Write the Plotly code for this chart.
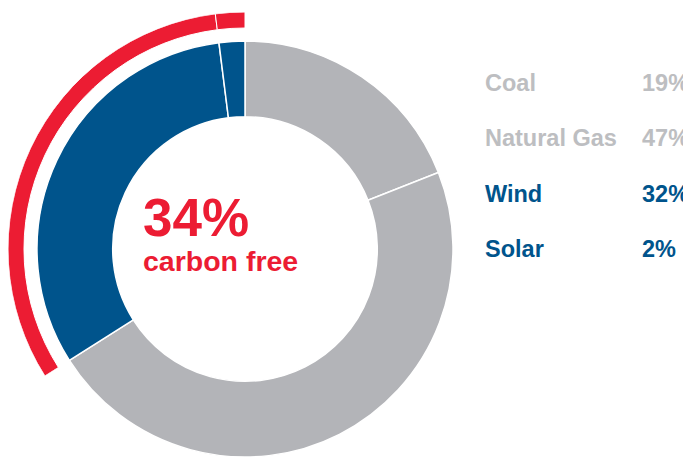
import math
import plotly.graph_objects as go

# ---- data ----
sources = ["Coal", "Natural Gas", "Wind", "Solar"]
shares = [19, 47, 32, 2]
carbon_free = [False, False, True, True]
center_label = "carbon free"

# ---- style ----
PAGE_OFF = 8                      # default body margin of the html page
W, H = 691 - PAGE_OFF, 458 - PAGE_OFF
GRAY = "#b3b4b8"
GRAY_TEXT = "#bdbec1"
BLUE = "#00548c"
RED = "#ec1c33"
FONT = "Liberation Sans, Arial, sans-serif"

slice_colors = [BLUE if cf else GRAY for cf in carbon_free]
text_colors = [BLUE if cf else GRAY_TEXT for cf in carbon_free]

# geometry in screen pixels
CX, CY = 245, 249
R_DONUT = 208
HOLE = 0.636
R_RING_OUT = 237
R_RING_IN = 221


def px_x(x):
    return min(1, max(0, (x - PAGE_OFF) / W))


def px_y(y):
    return min(1, max(0, 1 - (y - PAGE_OFF) / H))


fig = go.Figure()

# main donut
fig.add_trace(go.Pie(
    labels=sources,
    values=shares,
    sort=False,
    direction="clockwise",
    rotation=0,
    hole=HOLE,
    marker=dict(colors=slice_colors, line=dict(color="white", width=1.5)),
    textinfo="none",
    hoverinfo="label+percent",
    showlegend=False,
    domain=dict(x=[px_x(CX - R_DONUT), px_x(CX + R_DONUT)],
                y=[px_y(CY + R_DONUT), px_y(CY - R_DONUT)]),
))

# outer red ring over carbon-free sources (barpolar, clockwise from top)
total = sum(shares)
thetas, widths, bases, rs = [], [], [], []
cum = 0
for s, cf in zip(shares, carbon_free):
    start = cum / total * 360
    w = s / total * 360
    cum += s
    if cf:
        thetas.append(start + w / 2)
        widths.append(w)
        bases.append(R_RING_IN / R_RING_OUT)
        rs.append(1 - R_RING_IN / R_RING_OUT)

cf_share = sum(s for s, cf in zip(shares, carbon_free) if cf)
a1 = 90 + cf_share / total * 360  # screen angle (ccw from east)
sector = [90, a1]
y0 = math.sin(math.radians(a1))  # bbox bottom (negative)

fig.add_trace(go.Barpolar(
    theta=thetas,
    r=rs,
    base=bases,
    width=widths,
    marker=dict(color=RED, line=dict(color="white", width=1)),
    hoverinfo="skip",
    showlegend=False,
    subplot="polar",
))

fig.update_layout(
    polar=dict(
        domain=dict(x=[px_x(CX - R_RING_OUT), px_x(CX)],
                    y=[px_y(CY - y0 * R_RING_OUT), px_y(CY - R_RING_OUT)]),
        sector=sector,
        bgcolor="rgba(0,0,0,0)",
        angularaxis=dict(visible=False, rotation=90, direction="clockwise"),
        radialaxis=dict(visible=False, range=[0, 1]),
    )
)

annotations = []
# centre text
annotations.append(dict(
    x=px_x(141), y=px_y(217), xref="paper", yref="paper",
    xanchor="left", yanchor="middle", showarrow=False,
    text=f"<b>{cf_share}%</b>",
    font=dict(family=FONT, size=53, color=RED),
))
annotations.append(dict(
    x=px_x(141), y=px_y(261), xref="paper", yref="paper",
    xanchor="left", yanchor="middle", showarrow=False,
    text=f"<b>{center_label}</b>",
    font=dict(family=FONT, size=28.5, color=RED),
))

# legend-like table
row_y = [82.5, 138, 193.5, 249.5]
for name, val, col, yy in zip(sources, shares, text_colors, row_y):
    annotations.append(dict(
        x=px_x(483), y=px_y(yy), xref="paper", yref="paper",
        xanchor="left", yanchor="middle", showarrow=False,
        text=f"<b>{name}</b>",
        font=dict(family=FONT, size=23.5, color=col),
    ))
    annotations.append(dict(
        x=px_x(640), y=px_y(yy), xref="paper", yref="paper",
        xanchor="left", yanchor="middle", showarrow=False,
        text=f"<b>{val}%</b>",
        font=dict(family=FONT, size=23.5, color=col),
    ))

fig.update_layout(
    width=W, height=H,
    margin=dict(l=0, r=0, t=0, b=0),
    paper_bgcolor="white",
    plot_bgcolor="white",
    annotations=annotations,
    showlegend=False,
)

fig.write_html("out.html", config={"displayModeBar": False})
